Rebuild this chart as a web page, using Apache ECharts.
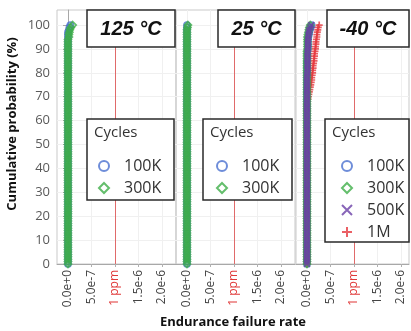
<!DOCTYPE html>
<html>
<head>
<meta charset="utf-8">
<script src="https://cdn.jsdelivr.net/npm/echarts@6/dist/echarts.min.js"></script>
<style>
  html, body { margin: 0; padding: 0; background: #fff; }
  #chart { width: 411px; height: 331px; }
</style>
</head>
<body>
<div id="chart"></div>
<script>
// Cumulative probability (%) of each ranked sample
const cumProb = [
  0,1,2,3,4,5,6,7,8,9,
  10,11,12,13,14,15,16,17,18,19,
  20,21,22,23,24,25,26,27,28,29,
  30,31,32,33,34,35,36,37,38,39,
  40,41,42,43,44,45,46,47,48,49,
  50,51,52,53,54,55,56,57,58,59,
  60,61,62,63,64,65,66,67,68,69,
  70,71,72,73,74,75,76,77,78,79,
  80,81,82,83,84,85,86,87,88,89,
  90,91,92,93,94,95,96,97,98,99,
  100
];

// Endurance failure rate (ppm) at each cumulative probability
const rate125_100K = [
  0,0,0,0,0,0,0,0,0,0, 0,0,0,0,0,0,0,0,0,0, 0,0,0,0,0,0,0,0,0,0,
  0,0,0,0,0,0,0,0,0,0, 0,0,0,0,0,0,0,0,0,0, 0,0,0,0,0,0,0,0,0,0,
  0,0,0,0,0,0,0,0,0,0, 0,0,0,0,0,0,0,0,0,0, 0,0,0,0,0,0,0,0,0,0,
  0,0,0,0,0,0,0,0,0.02,0.03, 0.05
];
const rate125_300K = [
  0,0,0,0,0,0,0,0,0,0, 0,0,0,0,0,0,0,0,0,0, 0,0,0,0,0,0,0,0,0,0,
  0,0,0,0,0,0,0,0,0,0, 0,0,0,0,0,0,0,0,0,0, 0,0,0,0,0,0,0,0,0,0,
  0,0,0,0,0,0,0,0,0,0, 0,0,0,0,0,0,0,0,0,0, 0,0,0,0,0,0,0,0,0,0,
  0,0,0,0,0,0.02,0.02,0.03,0.04,0.06, 0.10
];
const rate25_100K = [
  0,0,0,0,0,0,0,0,0,0, 0,0,0,0,0,0,0,0,0,0, 0,0,0,0,0,0,0,0,0,0,
  0,0,0,0,0,0,0,0,0,0, 0,0,0,0,0,0,0,0,0,0, 0,0,0,0,0,0,0,0,0,0,
  0,0,0,0,0,0,0,0,0,0, 0,0,0,0,0,0,0,0,0,0, 0,0,0,0,0,0,0,0,0,0,
  0,0,0,0,0,0,0,0,0,0, 0
];
const rate25_300K = [
  0,0,0,0,0,0,0,0,0,0, 0,0,0,0,0,0,0,0,0,0, 0,0,0,0,0,0,0,0,0,0,
  0,0,0,0,0,0,0,0,0,0, 0,0,0,0,0,0,0,0,0,0, 0,0,0,0,0,0,0,0,0,0,
  0,0,0,0,0,0,0,0,0,0, 0,0,0,0,0,0,0,0,0,0, 0,0,0,0,0,0,0,0,0,0,
  0,0,0,0,0,0,0,0,0,0.01, 0.02
];
const rateM40_100K = [
  0,0,0,0,0,0,0,0,0,0, 0,0,0,0,0,0,0,0,0,0, 0,0,0,0,0,0,0,0,0,0,
  0,0,0,0,0,0,0,0,0,0, 0,0,0,0,0,0,0,0,0,0, 0,0,0,0,0,0,0,0,0,0,
  0,0,0,0,0,0,0,0,0,0, 0,0,0,0,0,0,0,0,0,0,
  0,0,0,0,0,0,0.01,0.01,0.01,0.01,
  0.02,0.02,0.02,0.02,0.02,0.03,0.04,0.05,0.06,0.08, 0.10
];
const rateM40_300K = [
  0,0,0,0,0,0,0,0,0,0, 0,0,0,0,0,0,0,0,0,0, 0,0,0,0,0,0,0,0,0,0,
  0,0,0,0,0,0,0,0,0,0, 0,0,0,0,0,0,0,0,0,0, 0,0,0,0,0,0,0,0,0,0,
  0,0,0,0,0,0,0,0,0,0, 0,0,0,0,0,0,0,0,0,0, 0,0,0,0,0,0,0,0,0,0,
  0.01,0.01,0.01,0.01,0.01,0.01,0.02,0.03,0.04,0.05, 0.07
];
const rateM40_500K = [
  0,0,0,0,0,0,0,0,0,0, 0,0,0,0,0,0,0,0,0,0, 0,0,0,0,0,0,0,0,0,0,
  0,0,0,0,0,0,0,0,0,0, 0,0,0,0,0,0,0,0,0,0, 0,0,0,0,0,0,0,0,0,0,
  0,0,0,0,0,0,0,0,0,0, 0,0,0,0,0,0,0,0,0,0,
  0.01,0.01,0.01,0.01,0.01,0.01,0.01,0.01,0.01,0.01,
  0.02,0.02,0.02,0.02,0.02,0.03,0.03,0.04,0.05,0.07, 0.09
];
const rateM40_1M = [
  0,0,0,0,0,0,0,0,0,0, 0,0,0,0,0,0,0,0,0,0, 0,0,0,0,0,0,0,0,0,0,
  0,0,0,0,0,0,0,0,0,0, 0,0,0,0,0,0,0,0,0,0,
  0,0,0,0,0,0,0,0,0,0,
  0,0,0,0,0,0,0,0,0.01,0.02,
  0.03,0.04,0.05,0.06,0.07,0.08,0.09,0.10,0.10,0.11,
  0.12,0.12,0.13,0.13,0.14,0.15,0.15,0.16,0.16,0.17,
  0.18,0.18,0.19,0.19,0.20,0.21,0.21,0.22,0.23,0.24, 0.26
];

// Axis ticks
const rateTicks = [0, 0.5, 1, 1.5, 2];               // ppm
const rateTickLabels = ['0.0e+0', '5.0e-7', '1 ppm', '1.5e-6', '2.0e-6'];
const probTicks = [0, 10, 20, 30, 40, 50, 60, 70, 80, 90, 100];
const limitRate = 1;                                  // 1 ppm limit
const panelTitles = ['125 °C', '25 °C', '-40 °C'];
const cycleNames = ['100K', '300K', '500K', '1M'];

const COLORS = { '100K': '#4a70cf', '300K': '#3dae47', '500K': '#6a3fa6', '1M': '#e5383f' };
const SYMBOLS = {
  '100K': 'circle',
  '300K': 'diamond',
  '500K': 'path://M0,0L10,10M10,0L0,10',
  '1M': 'path://M5,0L5,10M0,5L10,5'
};
const SIZES = { '100K': 6, '300K': 7, '500K': 6, '1M': 7 };
const ZORDER = { '100K': 2, '1M': 3, '300K': 4, '500K': 5 };

const panels = [
  { title: panelTitles[0], series: { '100K': rate125_100K, '300K': rate125_300K } },
  { title: panelTitles[1], series: { '100K': rate25_100K, '300K': rate25_300K } },
  { title: panelTitles[2], series: { '100K': rateM40_100K, '300K': rateM40_300K, '500K': rateM40_500K, '1M': rateM40_1M } }
];

// Panel geometry (px)
const gridBoxes = [
  { left: 57, width: 119, xMax: 2.30 },
  { left: 176, width: 119, xMax: 2.30 },
  { left: 296, width: 113, xMax: 2.172 }
];
const PLOT_TOP = 10, PLOT_H = 254;
const X_MIN = -0.234;
const TXT = 'Open Sans, Noto Sans, sans-serif';

const grids = [], xAxes = [], yAxes = [], series = [], legends = [], graphics = [];

panels.forEach((p, i) => {
  const g = gridBoxes[i];
  grids.push({
    left: g.left, top: PLOT_TOP, width: g.width, height: PLOT_H,
    show: true, borderColor: '#c9c9c9', borderWidth: 1, backgroundColor: 'transparent'
  });
  xAxes.push({
    gridIndex: i, type: 'value', min: X_MIN, max: g.xMax,
    axisLine: { show: true, onZero: false, lineStyle: { color: '#a8a8a8' } },
    axisTick: { show: true, customValues: rateTicks, length: 3, lineStyle: { color: '#b0b0b0' } },
    splitLine: { show: true, lineStyle: { color: '#f0f0f0', width: 1 } },
    axisLabel: {
      customValues: rateTicks, rotate: 90, margin: 6,
      fontFamily: TXT, fontSize: 12, color: '#444',
      formatter: (v) => {
        const k = rateTicks.indexOf(v);
        const t = k >= 0 ? rateTickLabels[k] : '';
        return v === limitRate ? '{r|' + t + '}' : t;
      },
      rich: { r: { color: '#e03a3a', fontFamily: TXT, fontSize: 12 } }
    }
  });
  yAxes.push({
    gridIndex: i, type: 'value', min: 0, max: 106.3,
    axisLine: { show: i === 0, lineStyle: { color: '#a8a8a8' } },
    axisTick: { show: i === 0, customValues: probTicks, length: 5, lineStyle: { color: '#a8a8a8' } },
    splitLine: { show: true, lineStyle: { color: '#f0f0f0', width: 1 } },
    axisLabel: {
      show: i === 0, customValues: probTicks, margin: 7,
      fontFamily: TXT, fontSize: 13, color: '#5a5a5a'
    }
  });

  const names = Object.keys(p.series);
  names.forEach((name, k) => {
    const rates = p.series[name];
    series.push({
      type: 'scatter', name: name,
      xAxisIndex: i, yAxisIndex: i,
      symbol: SYMBOLS[name], symbolSize: SIZES[name],
      z: ZORDER[name],
      itemStyle: { color: 'rgba(0,0,0,0)', borderColor: COLORS[name], borderWidth: 1.7 },
      emphasis: { disabled: true },
      data: cumProb.map((pr, j) => [rates[j], pr]),
      markLine: k === 0 ? {
        silent: true, symbol: 'none', animation: false,
        label: { show: false },
        lineStyle: { color: '#e06a6a', width: 1, type: 'solid' },
        data: [{ xAxis: limitRate }]
      } : undefined
    });
  });
});

// Title boxes
const titleBoxes = [
  { x: 87, w: 88 }, { x: 218, w: 77 }, { x: 327, w: 82 }
];
titleBoxes.forEach((b, i) => {
  graphics.push({
    type: 'rect', z: 10,
    shape: { x: b.x, y: 10, width: b.w, height: 37 },
    style: { fill: '#fff', stroke: '#2a2a2a', lineWidth: 1.5 }
  });
  graphics.push({
    type: 'text', z: 11, x: b.x + b.w / 2, y: 29,
    style: {
      text: panelTitles[i], fill: '#111',
      font: 'italic bold 20px "Liberation Sans", Arial, sans-serif',
      align: 'center', verticalAlign: 'middle'
    }
  });
});

// Legend boxes
const legendBoxes = [
  { x: 87, y: 119, w: 87, h: 81, n: 2, pad: 6 },
  { x: 203, y: 119, w: 89, h: 81, n: 2, pad: 8 },
  { x: 325, y: 119, w: 84, h: 123, n: 4, pad: 11 }
];
legendBoxes.forEach((b, i) => {
  graphics.push({
    type: 'rect', z: 10,
    shape: { x: b.x, y: b.y, width: b.w, height: b.h },
    style: { fill: '#fff', stroke: '#2a2a2a', lineWidth: 1.5 }
  });
  graphics.push({
    type: 'text', z: 11, x: b.x + 7, y: b.y + 14,
    style: {
      text: 'Cycles', fill: '#333', font: '15px "Open Sans", sans-serif',
      align: 'left', verticalAlign: 'middle'
    }
  });
  legends.push({
    orient: 'vertical', left: b.x + b.pad, top: b.y + 34, z: 12,
    itemWidth: 10, itemHeight: 10, itemGap: 6,
    selectedMode: false,
    textStyle: { fontFamily: TXT, fontSize: 16, color: '#333', lineHeight: 14, padding: [0, 0, 0, 10] },
    data: cycleNames.slice(0, b.n).map(name => ({
      name: name,
      icon: SYMBOLS[name],
      itemStyle: { color: 'rgba(0,0,0,0)', borderColor: COLORS[name], borderWidth: 2 }
    }))
  });
});

// Axis titles
graphics.push({
  type: 'text', z: 11, x: 12, y: 124, rotation: Math.PI / 2,
  style: {
    text: 'Cumulative probability (%)', fill: '#111',
    font: 'bold 13px "Open Sans", sans-serif', align: 'center', verticalAlign: 'middle'
  }
});
graphics.push({
  type: 'text', z: 11, x: 233, y: 322,
  style: {
    text: 'Endurance failure rate', fill: '#111',
    font: 'bold 13px "Open Sans", sans-serif', align: 'center', verticalAlign: 'middle'
  }
});

const chart = echarts.init(document.getElementById('chart'), null, { renderer: 'canvas' });
chart.setOption({
  animation: false,
  backgroundColor: '#fff',
  grid: grids, xAxis: xAxes, yAxis: yAxes,
  legend: legends, series: series, graphic: graphics
});
</script>
</body>
</html>
